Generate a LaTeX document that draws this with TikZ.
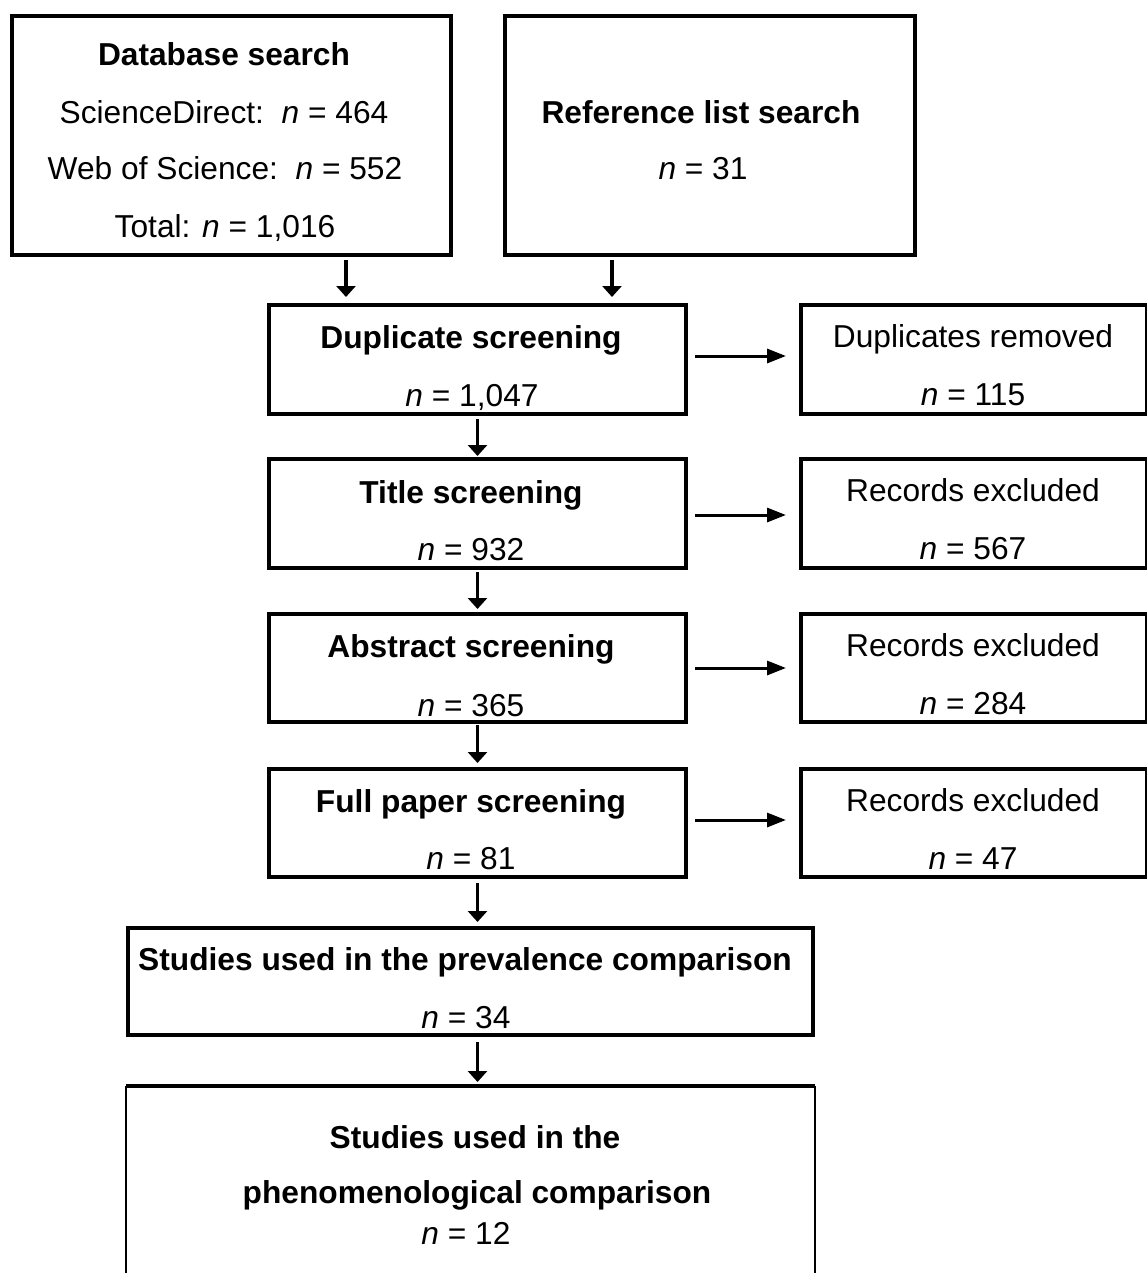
\documentclass[tikz,border=0pt]{standalone}
\usepackage{fontspec}
\setmainfont{Liberation Sans}
\usetikzlibrary{arrows.meta}
\begin{document}
\begin{tikzpicture}[x=1pt,y=-1pt,
  box/.style={draw=black, line width=4pt, inner sep=0pt, outer sep=0pt},
  txt/.style={inner sep=0pt, outer sep=0pt, anchor=base, font=\fontsize{31.7}{38}\selectfont},
  varr/.style={line width=3.5pt, -{Triangle[width=19pt,length=11pt]}},
  harr/.style={line width=3pt, -{Triangle[width=14pt,length=19pt]}}]
\useasboundingbox[fill=white] (0,0) rectangle (1147,1273);
% boxes
\node[box, minimum width=439pt, minimum height=239pt] (db) at (231.5,135.5) {};
\node[box, minimum width=410pt, minimum height=239pt] (ref) at (710,135.5) {};
\node[box, minimum width=417pt, minimum height=109pt] (dup) at (477.5,359.5) {};
\node[box, minimum width=346pt, minimum height=109pt] (rem) at (974,359.5) {};
\node[box, minimum width=417pt, minimum height=109pt] (tit) at (477.5,513.5) {};
\node[box, minimum width=346pt, minimum height=109pt] (exa) at (974,513.5) {};
\node[box, minimum width=417pt, minimum height=108pt] (abs) at (477.5,668) {};
\node[box, minimum width=346pt, minimum height=108pt] (exb) at (974,668) {};
\node[box, minimum width=417pt, minimum height=108pt] (ful) at (477.5,823) {};
\node[box, minimum width=346pt, minimum height=108pt] (exc) at (974,823) {};
\node[box, minimum width=685pt, minimum height=107pt] (pre) at (470.5,981.5) {};
\node[inner sep=0pt, outer sep=0pt, minimum width=689pt, minimum height=200pt] (fin) at (470.5,1186) {};
\draw[line width=4pt] (fin.north west) -- (fin.north east);
\draw[line width=1.5pt] (fin.north west) -- (fin.south west);
\draw[line width=1.5pt] (fin.north east) -- (fin.south east);
% texts
\node[txt] (dbA) at (224,66) {\textbf{Database search}};
\node[txt] (dbB) at (224,124) {ScienceDirect:\ \ \textit{n} = 464};
\node[txt] (dbC) at (225,180) {Web of Science:\ \ \textit{n} = 552};
\node[txt] (dbD) at (225,238) {Total: \textit{n} = 1,016};
\node[txt] (refA) at (701,124) {\textbf{Reference list search}};
\node[txt] (refB) at (703,180) {\textit{n} = 31};
\node[txt] (dupA) at (471,348) {\textbf{Duplicate screening}};
\node[txt] (dupB) at (472,406) {\textit{n} = 1,047};
\node[txt] (remA) at (973,347) {Duplicates removed};
\node[txt] (remB) at (973,405) {\textit{n} = 115};
\node[txt] (titA) at (471,503) {\textbf{Title screening}};
\node[txt] (titB) at (471,560) {\textit{n} = 932};
\node[txt] (exaA) at (973,501) {Records excluded};
\node[txt] (exaB) at (973,559) {\textit{n} = 567};
\node[txt] (absA) at (471,657) {\textbf{Abstract screening}};
\node[txt] (absB) at (471,716) {\textit{n} = 365};
\node[txt] (exbA) at (973,656) {Records excluded};
\node[txt] (exbB) at (973,714) {\textit{n} = 284};
\node[txt] (fulA) at (471,812) {\textbf{Full paper screening}};
\node[txt] (fulB) at (471,869) {\textit{n} = 81};
\node[txt] (excA) at (973,811) {Records excluded};
\node[txt] (excB) at (973,869) {\textit{n} = 47};
\node[txt] (preA) at (465,970) {\textbf{Studies used in the prevalence comparison}};
\node[txt] (preB) at (466,1028) {\textit{n} = 34};
\node[txt] (finA) at (475,1148) {\textbf{Studies used in the}};
\node[txt] (finB) at (477,1203) {\textbf{phenomenological comparison}};
\node[txt] (finC) at (466,1244) {\textit{n} = 12};
% vertical connectors
\coordinate (va) at ([xshift=114.5pt]db.south);
\coordinate (vb) at ([xshift=-98pt]ref.south);
\draw[varr, shorten <=5pt, shorten >=8pt] (va) -- (va |- dup.north);
\draw[varr, shorten <=5pt, shorten >=8pt] (vb) -- (vb |- dup.north);
\draw[varr, shorten <=5pt, shorten >=3pt] (dup.south) -- (tit.north);
\draw[varr, shorten <=4pt, shorten >=5pt] (tit.south) -- (abs.north);
\draw[varr, shorten <=3pt, shorten >=6pt] (abs.south) -- (ful.north);
\draw[varr, shorten <=6pt, shorten >=6pt] (ful.south) -- (ful.south |- pre.north);
\draw[varr, shorten <=7pt, shorten >=4pt] (ful.south |- pre.south) -- (ful.south |- fin.north);
% horizontal connectors
\coordinate (ha) at ([yshift=3.5pt]dup.east);
\coordinate (hb) at ([yshift=-1.5pt]tit.east);
\coordinate (hc) at (abs.east);
\coordinate (hd) at ([yshift=3pt]ful.east);
\draw[harr, shorten <=9pt, shorten >=15pt] (ha) -- (ha -| rem.west);
\draw[harr, shorten <=9pt, shorten >=15pt] (hb) -- (hb -| exa.west);
\draw[harr, shorten <=9pt, shorten >=15pt] (hc) -- (hc -| exb.west);
\draw[harr, shorten <=9pt, shorten >=15pt] (hd) -- (hd -| exc.west);
\end{tikzpicture}
\end{document}
